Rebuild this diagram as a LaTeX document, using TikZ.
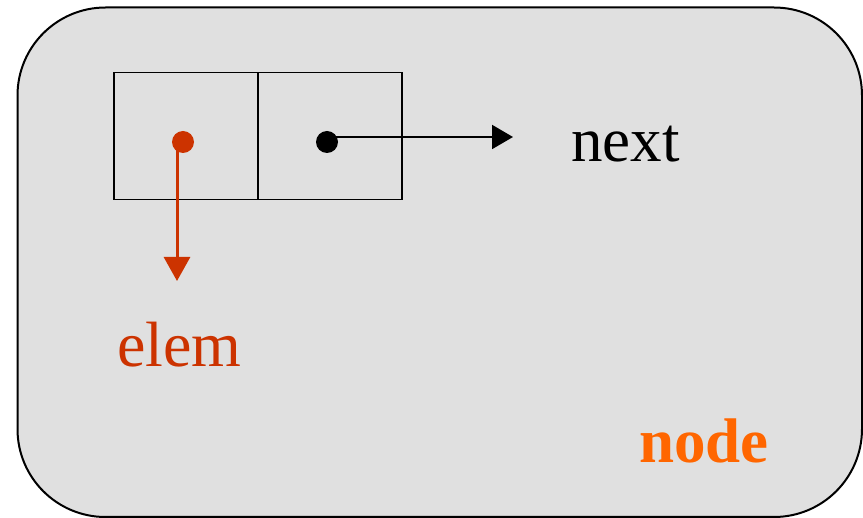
\documentclass[tikz,border=0pt]{standalone}
\usepackage{fontspec}
\setmainfont{Liberation Serif}
\usetikzlibrary{arrows.meta}
\definecolor{panelgray}{HTML}{E0E0E0}
\definecolor{elemred}{HTML}{CC3300}
\definecolor{nodeorange}{HTML}{FF6600}
\tikzset{
  cell/.style={draw=black, line width=1.5pt, minimum width=144pt, minimum height=127pt, inner sep=0pt, anchor=north west},
  dot/.style={circle, inner sep=0pt, minimum size=22pt},
  label/.style={anchor=base west, inner sep=0pt, font=\fontsize{63}{70}\selectfont}
}
\begin{document}
\begin{tikzpicture}[x=1pt, y=-1pt]
  \useasboundingbox (0,0) rectangle (863,518);
  % the node panel
  \draw[fill=panelgray, line width=2pt, rounded corners=88pt] (17.5,7.5) rectangle (862,517);
  % the two fields of the list node
  \node[cell] (elemcell) at (113,72) {};
  \node[cell] (nextcell) at (257,72) {};
  % pointer dots
  \node[dot, fill=elemred] (edot) at (183,142) {};
  \node[dot, fill=black] (ndot) at (327,142) {};
  \coordinate (etip) at (177,281);
  \coordinate (ntip) at (513,137);
  % pointers
  \draw[elemred, line width=3pt, -{Triangle[length=24pt,width=26pt]}] ([xshift=-6pt]edot.center) -- (etip);
  \draw[black, line width=2pt, -{Triangle[length=21pt,width=24pt]}] ([yshift=5pt]ndot.center) -- (ntip);
  % labels
  \node[label] (nextlbl) at (571,162) {next};
  \node[label, text=elemred, font=\fontsize{64}{70}\selectfont] (elemlbl) at (117,367) {elem};
  \node[label, text=nodeorange, font=\fontsize{63}{70}\selectfont\bfseries] (nodelbl) at (639,463) {node};
\end{tikzpicture}
\end{document}
